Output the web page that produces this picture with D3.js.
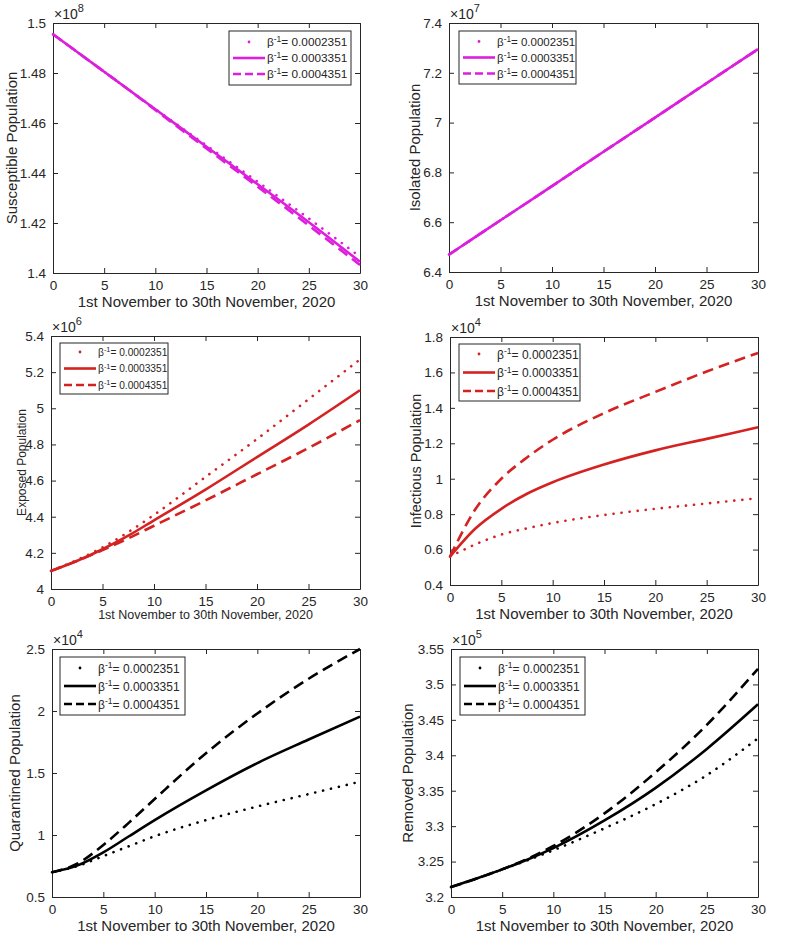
<!DOCTYPE html>
<html>
<head>
<meta charset="utf-8">
<script src="https://cdn.jsdelivr.net/npm/d3@7/dist/d3.min.js"></script>
<style>
  html, body { margin: 0; padding: 0; background: #fff; }
  svg { display: block; }
  text { font-family: "Liberation Sans", Arial, Helvetica, sans-serif; fill: #262626; }
</style>
</head>
<body>
<svg id="chart" width="797" height="936"></svg>
<script>
// ---------------- DATA ----------------
const days = [0, 2.5, 5, 7.5, 10, 15, 20, 25, 30];
const xTicks = [0, 5, 10, 15, 20, 25, 30];
const legendLabels = ["0.0002351", "0.0003351", "0.0004351"];
const xLabel = "1st November to 30th November, 2020";

// Susceptible (x1e8)
const susDot  = [1.4955, 1.4880, 1.4805, 1.4730, 1.4656, 1.4510, 1.4365, 1.4218, 1.4065];
const susSol  = [1.4955, 1.4880, 1.4805, 1.4730, 1.4655, 1.4505, 1.4355, 1.4203, 1.4045];
const susDash = [1.4955, 1.4880, 1.4805, 1.4730, 1.4652, 1.4498, 1.4345, 1.4190, 1.4032];
const susTicks = [1.4, 1.42, 1.44, 1.46, 1.48, 1.5];
const susTickLabels = ["1.4", "1.42", "1.44", "1.46", "1.48", "1.5"];

// Isolated (x1e7)
const isoDot  = [6.470, 6.539, 6.608, 6.676, 6.745, 6.883, 7.020, 7.158, 7.295];
const isoSol  = [6.470, 6.539, 6.608, 6.676, 6.745, 6.883, 7.020, 7.158, 7.295];
const isoDash = [6.470, 6.539, 6.608, 6.676, 6.745, 6.883, 7.020, 7.158, 7.295];
const isoTicks = [6.4, 6.6, 6.8, 7, 7.2, 7.4];
const isoTickLabels = ["6.4", "6.6", "6.8", "7", "7.2", "7.4"];

// Exposed (x1e6)
const expDot  = [4.10, 4.160, 4.230, 4.315, 4.41, 4.62, 4.83, 5.05, 5.27];
const expSol  = [4.10, 4.155, 4.220, 4.295, 4.38, 4.55, 4.73, 4.91, 5.10];
const expDash = [4.10, 4.155, 4.215, 4.280, 4.35, 4.49, 4.635, 4.78, 4.935];
const expTicks = [4, 4.2, 4.4, 4.6, 4.8, 5, 5.2, 5.4];
const expTickLabels = ["4", "4.2", "4.4", "4.6", "4.8", "5", "5.2", "5.4"];

// Infectious (x1e4)
const infDot  = [0.56, 0.630, 0.685, 0.720, 0.750, 0.795, 0.830, 0.860, 0.890];
const infSol  = [0.56, 0.720, 0.830, 0.915, 0.980, 1.080, 1.160, 1.225, 1.290];
const infDash = [0.56, 0.830, 1.000, 1.120, 1.220, 1.370, 1.490, 1.605, 1.710];
const infTicks = [0.4, 0.6, 0.8, 1, 1.2, 1.4, 1.6, 1.8];
const infTickLabels = ["0.4", "0.6", "0.8", "1", "1.2", "1.4", "1.6", "1.8"];

// Quarantined (x1e4)
const quaDot  = [0.70, 0.750, 0.830, 0.910, 0.990, 1.120, 1.230, 1.330, 1.430];
const quaSol  = [0.70, 0.755, 0.860, 0.990, 1.120, 1.360, 1.580, 1.770, 1.955];
const quaDash = [0.70, 0.770, 0.920, 1.100, 1.290, 1.660, 1.980, 2.260, 2.500];
const quaTicks = [0.5, 1, 1.5, 2, 2.5];
const quaTickLabels = ["0.5", "1", "1.5", "2", "2.5"];

// Removed (x1e5)
const remDot  = [3.214, 3.226, 3.239, 3.252, 3.266, 3.297, 3.331, 3.372, 3.424];
const remSol  = [3.214, 3.226, 3.239, 3.253, 3.269, 3.308, 3.354, 3.409, 3.472];
const remDash = [3.214, 3.226, 3.239, 3.254, 3.272, 3.318, 3.376, 3.443, 3.522];
const remTicks = [3.2, 3.25, 3.3, 3.35, 3.4, 3.45, 3.5, 3.55];
const remTickLabels = ["3.2", "3.25", "3.3", "3.35", "3.4", "3.45", "3.5", "3.55"];

const magenta = "#dd1edd";
const red = "#d42222";
const black = "#000000";

// ---------------- PANELS ----------------
const panels = [
  { name: "Susceptible Population", exp: "8", color: magenta, series: [susDot, susSol, susDash],
    ticks: susTicks, labels: susTickLabels, left: 53, right: 360, top: 23, bottom: 273,
    ylabX: 12, ylabSize: 15, xlabSize: 15, xlabDy: 34,
    legend: { x: 229, y: 31, w: 122, h: 54, fs: 11.8, rowH: 16 } },
  { name: "Isolated Population", exp: "7", color: magenta, series: [isoDot, isoSol, isoDash],
    ticks: isoTicks, labels: isoTickLabels, left: 449, right: 758, top: 23, bottom: 272,
    ylabX: 415, ylabSize: 15, xlabSize: 15, xlabDy: 34,
    legend: { x: 459, y: 31, w: 117, h: 53, fs: 11.5, rowH: 16 } },
  { name: "Exposed Population", exp: "6", color: red, series: [expDot, expSol, expDash],
    ticks: expTicks, labels: expTickLabels, left: 51, right: 360, top: 336, bottom: 589,
    ylabX: 22, ylabSize: 12, xlabSize: 12.5, xlabDy: 30,
    legend: { x: 60, y: 343, w: 108, h: 51, fs: 10.2, rowH: 16.5 } },
  { name: "Infectious Population", exp: "4", color: red, series: [infDot, infSol, infDash],
    ticks: infTicks, labels: infTickLabels, left: 450, right: 758, top: 337, bottom: 585,
    ylabX: 416, ylabSize: 14.5, xlabSize: 15, xlabDy: 34,
    legend: { x: 459, y: 344, w: 121, h: 57, fs: 12, rowH: 18.5 } },
  { name: "Quarantined Population", exp: "4", color: black, series: [quaDot, quaSol, quaDash],
    ticks: quaTicks, labels: quaTickLabels, left: 52, right: 360, top: 649, bottom: 897,
    ylabX: 15, ylabSize: 15, xlabSize: 15, xlabDy: 34,
    legend: { x: 60, y: 657, w: 125, h: 58, fs: 12, rowH: 18 } },
  { name: "Removed Population", exp: "5", color: black, series: [remDot, remSol, remDash],
    ticks: remTicks, labels: remTickLabels, left: 451, right: 758, top: 649, bottom: 897,
    ylabX: 408, ylabSize: 15, xlabSize: 15, xlabDy: 34,
    legend: { x: 460, y: 657, w: 125, h: 58, fs: 12, rowH: 18 } }
];

const styles = [
  { dash: "0.1,8", cap: "round" },
  { dash: null, cap: "butt" },
  { dash: "11,6", cap: "butt" }
];

const svg = d3.select("#chart");
const axisColor = "#262626";

panels.forEach(p => {
  const x = d3.scaleLinear().domain([0, 30]).range([p.left, p.right]);
  const y = d3.scaleLinear().domain([p.ticks[0], p.ticks[p.ticks.length - 1]]).range([p.bottom, p.top]);
  const g = svg.append("g");

  const clipId = "clip" + p.exp + p.left + p.top;
  svg.append("clipPath").attr("id", clipId).append("rect")
    .attr("x", p.left - 2).attr("y", p.top - 2)
    .attr("width", p.right - p.left + 4).attr("height", p.bottom - p.top + 4);

  // axes (ticks inward, box on)
  const fmtX = d => String(d);
  const bottomAx = d3.axisBottom(x).tickValues(xTicks).tickFormat(fmtX).tickSizeInner(-5).tickSizeOuter(0).tickPadding(7);
  const topAx = d3.axisTop(x).tickValues(xTicks).tickFormat("").tickSizeInner(-5).tickSizeOuter(0);
  const leftAx = d3.axisLeft(y).tickValues(p.ticks).tickFormat((d, i) => p.labels[i]).tickSizeInner(-5).tickSizeOuter(0).tickPadding(7);
  const rightAx = d3.axisRight(y).tickValues(p.ticks).tickFormat("").tickSizeInner(-5).tickSizeOuter(0);

  const gb = g.append("g").attr("transform", `translate(0,${p.bottom})`).call(bottomAx);
  const gt = g.append("g").attr("transform", `translate(0,${p.top})`).call(topAx);
  const gl = g.append("g").attr("transform", `translate(${p.left},0)`).call(leftAx);
  const gr = g.append("g").attr("transform", `translate(${p.right},0)`).call(rightAx);
  [gb, gt, gl, gr].forEach(a => {
    a.select(".domain").attr("stroke", axisColor).attr("stroke-width", 1);
    a.selectAll(".tick line").attr("stroke", axisColor).attr("stroke-width", 1);
    a.selectAll(".tick text").attr("fill", axisColor).style("font-size", "13.5px")
      .style("font-family", '"Liberation Sans", Arial, sans-serif');
  });

  // exponent label
  const ex = g.append("text").attr("x", p.left + 1).attr("y", p.top - 4)
    .style("font-size", "14px").attr("fill", axisColor);
  ex.append("tspan").text("\u00d710");
  ex.append("tspan").attr("dy", -7).style("font-size", "11px").text(p.exp);

  // y label
  g.append("text")
    .attr("transform", `translate(${p.ylabX},${(p.top + p.bottom) / 2}) rotate(-90)`)
    .attr("text-anchor", "middle").attr("dy", "0.35em")
    .style("font-size", p.ylabSize + "px").attr("fill", axisColor)
    .text(p.name);

  // x label
  g.append("text").attr("x", (p.left + p.right) / 2).attr("y", p.bottom + p.xlabDy)
    .attr("text-anchor", "middle").style("font-size", p.xlabSize + "px").attr("fill", axisColor)
    .text(xLabel);

  // lines
  const line = d3.line().x((d, i) => x(days[i])).y(d => y(d)).curve(d3.curveMonotoneX);
  const lg = g.append("g").attr("clip-path", `url(#${clipId})`);
  [2, 1, 0].forEach(k => {
    lg.append("path").datum(p.series[k])
      .attr("d", line)
      .attr("fill", "none")
      .attr("stroke", p.color)
      .attr("stroke-width", 2.6)
      .attr("stroke-linecap", styles[k].cap)
      .attr("stroke-dasharray", styles[k].dash);
  });

  // legend
  const L = p.legend;
  const leg = g.append("g");
  leg.append("rect").attr("x", L.x).attr("y", L.y).attr("width", L.w).attr("height", L.h)
    .attr("fill", "#fff").attr("stroke", axisColor).attr("stroke-width", 1);
  const rowY0 = L.y + L.h / 2 - L.rowH;
  legendLabels.forEach((lab, k) => {
    const ry = rowY0 + k * L.rowH;
    const sx0 = L.x + 4, sx1 = L.x + 36;
    if (k === 0) {
      leg.append("circle").attr("cx", (sx0 + sx1) / 2).attr("cy", ry).attr("r", 1.4).attr("fill", p.color);
    } else {
      leg.append("line").attr("x1", sx0).attr("x2", sx1).attr("y1", ry).attr("y2", ry)
        .attr("stroke", p.color).attr("stroke-width", 2.6)
        .attr("stroke-dasharray", k === 2 ? "8,4" : null);
    }
    const t = leg.append("text").attr("x", L.x + 38).attr("y", ry).attr("dy", "0.38em")
      .style("font-size", L.fs + "px").attr("fill", "#000");
    t.append("tspan").text("\u03b2");
    t.append("tspan").attr("dy", -L.fs * 0.35).style("font-size", (L.fs * 0.72) + "px").text("-1");
    t.append("tspan").attr("dy", L.fs * 0.35).text("= " + lab);
  });
});
</script>
</body>
</html>
